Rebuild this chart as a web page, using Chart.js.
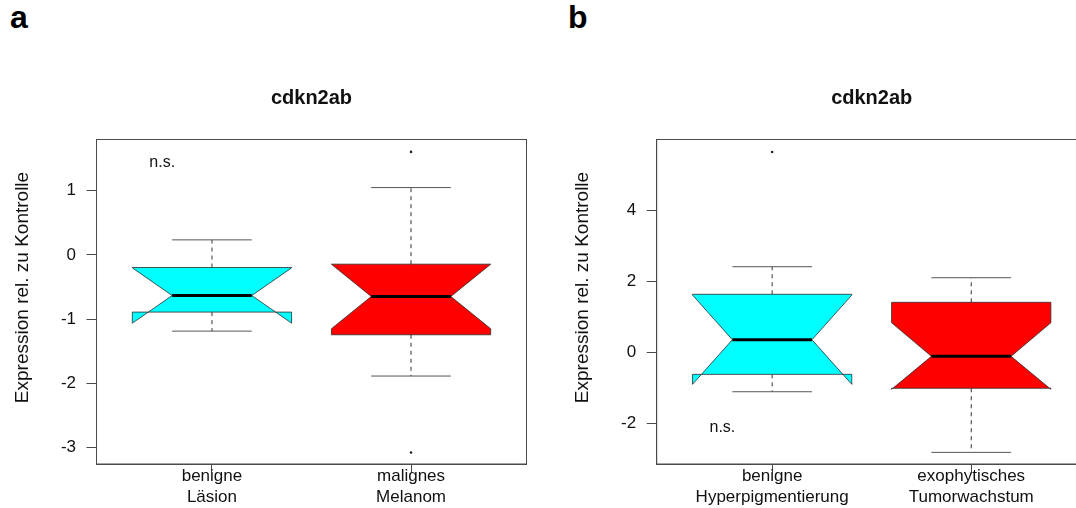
<!DOCTYPE html>
<html>
<head>
<meta charset="utf-8">
<script src="https://cdn.jsdelivr.net/npm/chart.js@4/dist/chart.umd.min.js"></script>
<style>
  html, body { margin: 0; padding: 0; background: #fff; overflow: hidden; width: 1076px; height: 508px; }
  .wrap { position: absolute; top: 0; width: 540px; height: 508px; }
  .letter { position: absolute; font-family: "Liberation Sans", Arial, sans-serif; font-weight: bold; font-size: 32px; line-height: 32px; color: #000; }
</style>
</head>
<body>
<div class="letter" style="left:10px; top:1px;">a</div>
<div class="letter" style="left:568px; top:1px;">b</div>
<div class="wrap" style="left:0px;"><canvas id="chartA" width="540" height="508"></canvas></div>
<div class="wrap" style="left:560px;"><canvas id="chartB" width="540" height="508"></canvas></div>
<script>
// ---------------- data ----------------
const titleA = 'cdkn2ab';
const titleB = 'cdkn2ab';
const yTitle = 'Expression rel. zu Kontrolle';

const categoriesA = [['benigne', 'Läsion'], ['malignes', 'Melanom']];
const categoriesB = [['benigne', 'Hyperpigmentierung'], ['exophytisches', 'Tumorwachstum']];

const ticksA = [-3, -2, -1, 0, 1];
const ticksB = [-2, 0, 2, 4];

// panel a box statistics (one value per category)
const whiskerLowA  = [-1.187, -1.886];
const q1A          = [-0.891, -1.244];
const medianA      = [-0.633, -0.648];
const q3A          = [-0.197, -0.145];
const whiskerHighA = [0.233, 1.047];
const notchLowA    = [-1.063, -1.150];
const notchHighA   = [-0.203, -0.146];
const outliersA    = [[], [1.602, -3.075]];

// panel b box statistics
const whiskerLowB  = [-1.108, -2.813];
const q1B          = [-0.619, -1.010];
const medianB      = [0.354, -0.113];
const q3B          = [1.632, 1.406];
const whiskerHighB = [2.408, 2.098];
const notchLowB    = [-0.900, -1.040];
const notchHighB   = [1.610, 0.833];
const outliersB    = [[5.634], []];

const boxColors = ['#00FFFF', '#FF0000'];
const yRangeA = [-3.255, 1.795];
const yRangeB = [-3.14, 5.985];
const annotA = { x: 0.75, y: 1.44, text: 'n.s.' };
const annotB = { x: 0.75, y: -2.12, text: 'n.s.' };

// ---------------- drawing ----------------
const FONT = '"Liberation Sans", Arial, Helvetica, sans-serif';
const LINE = '#4a4a4a';

function boxPlugin(stats, annot) {
  return {
    id: 'boxes',
    beforeDatasetsDraw(chart) {
      const { ctx, chartArea: ca, scales: { x, y } } = chart;
      ctx.save();
      ctx.beginPath();
      ctx.rect(ca.left, ca.top, ca.right - ca.left, ca.bottom - ca.top);
      ctx.clip();
      const wid = 0.4, nf = 0.5, staple = 0.2;
      const X = v => x.getPixelForValue(v);
      const Y = v => y.getPixelForValue(v);
      for (let i = 0; i < stats.med.length; i++) {
        const c = i + 1;
        // whiskers (dashed)
        ctx.strokeStyle = '#333';
        ctx.lineWidth = 1;
        ctx.setLineDash([4, 4]);
        ctx.beginPath();
        ctx.moveTo(X(c), Y(stats.q1[i])); ctx.lineTo(X(c), Y(stats.wLo[i]));
        ctx.moveTo(X(c), Y(stats.q3[i])); ctx.lineTo(X(c), Y(stats.wHi[i]));
        ctx.stroke();
        ctx.setLineDash([]);
        // staples
        ctx.strokeStyle = '#555';
        ctx.beginPath();
        ctx.moveTo(X(c - staple), Y(stats.wLo[i])); ctx.lineTo(X(c + staple), Y(stats.wLo[i]));
        ctx.moveTo(X(c - staple), Y(stats.wHi[i])); ctx.lineTo(X(c + staple), Y(stats.wHi[i]));
        ctx.stroke();
        // notched box (R bxp polygon)
        const xx = [-1, 1, 1, nf, 1, 1, -1, -1, -nf, -1].map(k => X(c + wid * k));
        const yy = [stats.q1[i], stats.q1[i], stats.nLo[i], stats.med[i], stats.nHi[i],
                    stats.q3[i], stats.q3[i], stats.nHi[i], stats.med[i], stats.nLo[i]].map(Y);
        ctx.beginPath();
        ctx.moveTo(xx[0], yy[0]);
        for (let k = 1; k < xx.length; k++) ctx.lineTo(xx[k], yy[k]);
        ctx.closePath();
        ctx.fillStyle = boxColors[i];
        ctx.fill();
        ctx.strokeStyle = '#2b2b2b';
        ctx.lineWidth = 0.8;
        ctx.stroke();
        // median
        ctx.strokeStyle = '#000';
        ctx.lineWidth = 3;
        ctx.beginPath();
        ctx.moveTo(X(c - wid * nf), Y(stats.med[i]));
        ctx.lineTo(X(c + wid * nf), Y(stats.med[i]));
        ctx.stroke();
      }
      ctx.restore();
    },
    afterDraw(chart) {
      const { ctx, chartArea: ca, scales: { x, y } } = chart;
      ctx.save();
      ctx.strokeStyle = LINE;
      ctx.lineWidth = 1;
      ctx.strokeRect(ca.left, ca.top, ca.right - ca.left, ca.bottom - ca.top);
      ctx.fillStyle = '#111';
      ctx.font = '16px ' + FONT;
      ctx.textAlign = 'center';
      ctx.textBaseline = 'middle';
      ctx.fillText(annot.text, x.getPixelForValue(annot.x), y.getPixelForValue(annot.y));
      // y axis title (R ylab), placed where the reference shows it
      ctx.translate(22.5, 287.5);
      ctx.rotate(-Math.PI / 2);
      ctx.font = '19px ' + FONT;
      ctx.fillText(yTitle, 0, 0);
      ctx.restore();
    }
  };
}

function makeChart(id, title, cats, ticks, yRange, stats, outliers, annot, yWidth, padRight) {
  const outPts = [];
  outliers.forEach((arr, i) => arr.forEach(v => outPts.push({ x: i + 1, y: v })));
  return new Chart(document.getElementById(id), {
    type: 'scatter',
    data: {
      datasets: [{
        data: outPts,
        pointRadius: 1.3,
        pointBackgroundColor: '#222',
        pointBorderWidth: 0,
        showLine: false
      }]
    },
    options: {
      responsive: false,
      animation: false,
      devicePixelRatio: 1,
      layout: { padding: { left: 0, right: padRight, top: 0, bottom: 0 } },
      plugins: {
        legend: { display: false },
        tooltip: { enabled: false },
        title: {
          display: true,
          text: title,
          fullSize: false,
          color: '#111',
          font: { family: FONT, size: 20, weight: 'bold', lineHeight: 1.2 },
          padding: { top: 86.1, bottom: 29.4 }
        }
      },
      scales: {
        x: {
          type: 'linear',
          min: 0.42,
          max: 2.58,
          afterFit: s => { s.height = 44; },
          afterBuildTicks: s => { s.ticks = cats.map((c, i) => ({ value: i + 1 })); },
          ticks: {
            autoSkip: false,
            maxRotation: 0,
            color: '#111',
            padding: -6.6,
            font: { family: FONT, size: 17, lineHeight: 21.5 / 17 },
            callback: (v) => cats[Math.round(v) - 1]
          },
          grid: { display: true, drawOnChartArea: false, drawTicks: true, tickLength: 8, color: LINE },
          border: { display: true, color: LINE }
        },
        y: {
          type: 'linear',
          min: yRange[0],
          max: yRange[1],
          afterFit: s => { s.width = yWidth; },
          afterBuildTicks: s => { s.ticks = ticks.map(v => ({ value: v })); },
          ticks: {
            color: '#111',
            padding: 10.5,
            font: { family: FONT, size: 17 },
            callback: v => String(v)
          },
          grid: { display: true, drawOnChartArea: false, drawTicks: true, tickLength: 10, color: LINE },
          border: { display: true, color: LINE },
          title: { display: false }
        }
      }
    },
    plugins: [boxPlugin(stats, annot)]
  });
}

makeChart('chartA', titleA, categoriesA, ticksA, yRangeA,
  { wLo: whiskerLowA, q1: q1A, med: medianA, q3: q3A, wHi: whiskerHighA, nLo: notchLowA, nHi: notchHighA },
  outliersA, annotA, 96.5, 13.5);

makeChart('chartB', titleB, categoriesB, ticksB, yRangeB,
  { wLo: whiskerLowB, q1: q1B, med: medianB, q3: q3B, wHi: whiskerHighB, nLo: notchLowB, nHi: notchHighB },
  outliersB, annotB, 96.7, 13.3);
</script>
</body>
</html>
